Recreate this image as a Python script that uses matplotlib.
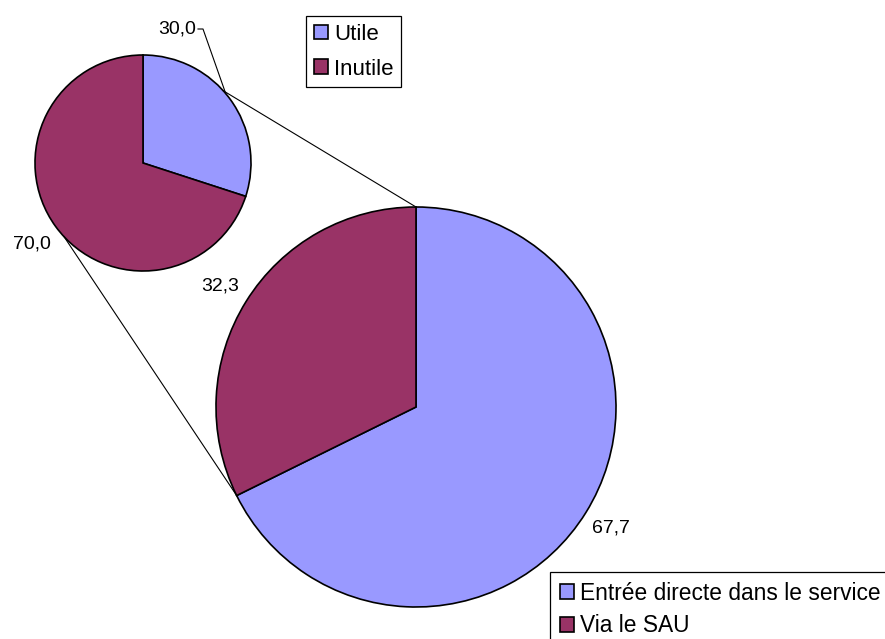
import numpy as np
import matplotlib
matplotlib.use("Agg")
import matplotlib.pyplot as plt
from matplotlib.patches import Patch

plt.rcParams["font.family"] = ["Liberation Sans", "DejaVu Sans"]

# ---- data ----
main_labels = ["Entrée directe dans le service", "Via le SAU"]
main_values = [67.7, 32.3]
sub_labels = ["Utile", "Inutile"]
sub_values = [30.0, 70.0]
colors = ["#9999FF", "#993366"]

W, H = 885, 639
fig = plt.figure(figsize=(W / 100, H / 100), dpi=100)
ax = fig.add_axes([0, 0, 1, 1])

big_c, big_r = (416, H - 407), 200
small_c, small_r = (143, H - 163), 108
wp = dict(edgecolor="black", linewidth=1.2)

ax.pie(main_values, colors=colors, startangle=90, counterclock=False,
       center=big_c, radius=big_r, wedgeprops=wp)
ax.pie(sub_values, colors=colors, startangle=90, counterclock=False,
       center=small_c, radius=small_r, wedgeprops=wp)


def on_circle(c, r, deg, k=1.0):
    a = np.deg2rad(deg)
    return c[0] + k * r * np.cos(a), c[1] + k * r * np.sin(a)


def fmt(v):
    return f"{v:.1f}".replace(".", ",")


LBL = 14

# value labels, placed along the mid-angle of each slice
bounds = 90 - 360 * np.cumsum([0] + main_values) / 100
for v, a0, a1 in zip(main_values, bounds[:-1], bounds[1:]):
    x, y = on_circle(big_c, big_r, (a0 + a1) / 2, 1.15)
    ax.text(x, y, fmt(v), fontsize=LBL, ha="center", va="center")

sb = 90 - 360 * np.cumsum([0] + sub_values) / 100
x, y = on_circle(small_c, small_r, (sb[1] + sb[2]) / 2, 1.27)
ax.text(x, y, fmt(sub_values[1]), fontsize=LBL, ha="center", va="center")

# "30,0" moved above with a leader line
lx, ly = on_circle(small_c, small_r, 40)
ax.plot([198, 203, lx], [H - 29, H - 29, ly], color="black", lw=0.8)
ax.text(196, H - 29, fmt(sub_values[0]), fontsize=LBL, ha="right", va="center")

# connector lines between the two pies
b_split = bounds[1]
for sa, ba in [(42, 90), (223, b_split)]:
    p1 = on_circle(small_c, small_r, sa)
    p2 = on_circle(big_c, big_r, ba)
    ax.plot([p1[0], p2[0]], [p1[1], p2[1]], color="black", lw=0.8)

ax.set_xlim(0, W)
ax.set_ylim(0, H)
ax.set_aspect("equal")
ax.axis("off")

leg_kw = dict(loc="upper left", bbox_transform=fig.transFigure,
              borderaxespad=0, fancybox=False, framealpha=1, edgecolor="black",
              handlelength=0.65, handleheight=0.65, handletextpad=0.25)

h1 = [Patch(facecolor=c, edgecolor="black", lw=1.2) for c in colors]
leg1 = fig.legend(h1, sub_labels, bbox_to_anchor=(306 / W, 1 - 16 / H),
                  fontsize=16, borderpad=0.35, labelspacing=0.62, **leg_kw)
leg1.get_frame().set_linewidth(0.9)

h2 = [Patch(facecolor=c, edgecolor="black", lw=1.2) for c in colors]
leg2 = fig.legend(h2, main_labels, bbox_to_anchor=(550 / W, 1 - 572 / H),
                  fontsize=16.4, borderpad=0.42, labelspacing=0.42, **leg_kw)
leg2.get_frame().set_linewidth(0.9)

fig.savefig("out.png", dpi=100)
